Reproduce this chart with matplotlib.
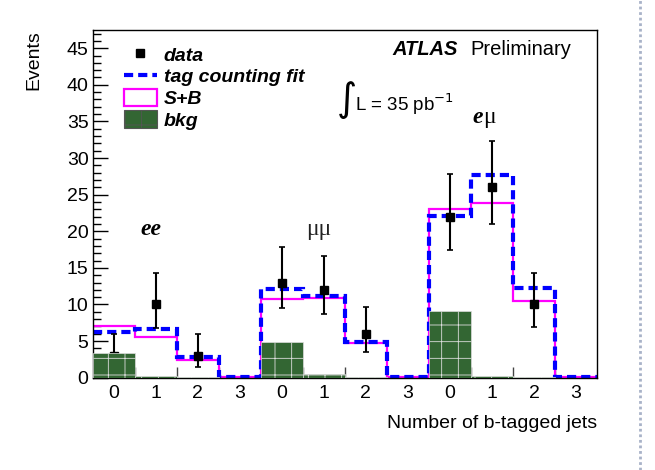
import numpy as np
import matplotlib
matplotlib.use("Agg")
import matplotlib.pyplot as plt
from matplotlib.lines import Line2D
from matplotlib.patches import Patch

plt.rcParams['font.family'] = ['Liberation Sans', 'DejaVu Sans']
plt.rcParams['hatch.color'] = 'white'
plt.rcParams['hatch.linewidth'] = 0.6

# ---- data ----
tick_labels = ['0', '1', '2', '3', '0', '1', '2', '3', '0', '1', '2', '3']
channels = ['ee', 'μμ', 'eμ']
data = [3, 10, 3, 0, 13, 12, 6, 0, 22, 26, 10, 0]
data_hi = [5.9, 14.3, 5.95, 0, 17.8, 16.6, 9.6, 0, 27.8, 32.3, 14.26, 0]
data_lo = [1.35, 6.8, 1.4, 0, 9.48, 8.66, 3.56, 0, 17.45, 20.95, 6.88, 0]
fit = [6.28, 6.6, 2.87, 0.05, 12.07, 11.2, 4.92, 0.05, 22.1, 27.7, 12.2, 0.1]
sb = [7.0, 5.6, 2.42, 0.05, 10.75, 10.85, 4.7, 0.05, 23.0, 23.87, 10.5, 0.1]
bkg = [3.4, 0.25, 0.08, 0.0, 4.83, 0.5, 0.05, 0.0, 9.1, 0.2, 0.15, 0.0]

nb = len(tick_labels)
centers = np.arange(nb)
edges = np.arange(nb + 1) - 0.5

fig = plt.figure(figsize=(6.55, 4.70), dpi=100)
ax = fig.add_axes([0.1415, 0.1964, 0.770, 0.740])

# S+B and fit
ax.stairs(sb, edges, baseline=None, color='#ff00ff', lw=1.6, zorder=2)
ax.stairs(fit, edges, baseline=None, color='#0000ff', lw=3.0,
          linestyle=(0, (2.2, 1.2)), zorder=2.5)

# data
d = np.array(data, float)
hi = np.array(data_hi, float)
lo = np.array(data_lo, float)
m = d > 0
ax.errorbar(centers[m], d[m], yerr=[d[m] - lo[m], hi[m] - d[m]], fmt='s',
            color='black', ms=5.5, elinewidth=1.5, capsize=2.2, capthick=1.2,
            zorder=3)

# background
ax.bar(centers, bkg, width=1.0, color='#336633', edgecolor='#dddddd',
       linewidth=0.5, hatch='+', zorder=4)

ax.set_xlim(-0.5, nb - 0.5)
ax.set_ylim(0, 47.5)

ax.set_xticks(centers, tick_labels)
ax.set_xticks(edges[1:-1], minor=True)
ax.tick_params(axis='x', which='major', length=0, pad=5, labelsize=14)
ax.tick_params(axis='x', which='minor', direction='in', length=8, width=1,
               color='#444444')
ax.set_yticks(np.arange(0, 46, 5))
ax.set_yticks(np.arange(0, 48, 1), minor=True)
ax.tick_params(axis='y', which='major', direction='in', length=11, width=1,
               pad=3, labelsize=14)
ax.tick_params(axis='y', which='minor', direction='in', length=5.5, width=1)
for s in ax.spines.values():
    s.set_linewidth(1.0)

fig.text(0.051, 0.936, 'Events', rotation=90, ha='center', va='top',
         fontsize=14)
fig.text(0.9115, 0.10, 'Number of b-tagged jets', ha='right', va='center',
         fontsize=14)

# legend
handles = [
    Line2D([], [], marker='s', color='black', ls='none', ms=6),
    Line2D([], [], color='#0000ff', lw=3.0, ls=(0, (2.2, 1.2))),
    Patch(facecolor='white', edgecolor='#ff00ff', lw=1.6),
    Patch(facecolor='#336633', edgecolor='#555555', lw=0.8, hatch='+'),
]
labels = ['data', 'tag counting fit', 'S+B', 'bkg']
leg = ax.legend(handles, labels, loc='upper left',
                bbox_to_anchor=(0.035, 0.995), frameon=False,
                prop={'size': 14, 'weight': 'bold', 'style': 'italic'},
                handlelength=1.7, handleheight=1.0, handletextpad=0.35,
                labelspacing=0.12, borderpad=0.2)

# annotations
ax.text(6.62, 44.8, 'ATLAS', fontsize=14.5, fontweight='bold',
        fontstyle='italic', ha='left', va='center')
ax.text(8.49, 44.8, 'Preliminary', fontsize=14.5, ha='left', va='center')
ax.text(5.30, 37.9, '∫', fontsize=28, ha='left', va='center',
        family=['DejaVu Sans'])
ax.text(5.75, 37.3, 'L = 35 pb$^{-1}$', fontsize=13.5, ha='left', va='center')

ax.text(0.887, 20.3, 'ee', fontsize=17, ha='center', va='center',
        family=['Liberation Serif'], fontweight='bold', fontstyle='italic')
ax.text(4.88, 20.2, 'μμ', fontsize=17, ha='center', va='center',
        family=['Liberation Serif'], color='#222222')
ax.text(8.79, 35.6, 'e', fontsize=17, ha='right', va='center',
        family=['Liberation Serif'], fontweight='bold', fontstyle='italic')
ax.text(8.79, 35.6, 'μ', fontsize=17, ha='left', va='center',
        family=['Liberation Serif'])

# dotted page line at right
fig.add_artist(Line2D([640 / 655, 640 / 655], [0, 1], color='#a8b2c8',
                      lw=2, ls=(0, (1, 1)), transform=fig.transFigure))

fig.savefig('out.png', dpi=100)
